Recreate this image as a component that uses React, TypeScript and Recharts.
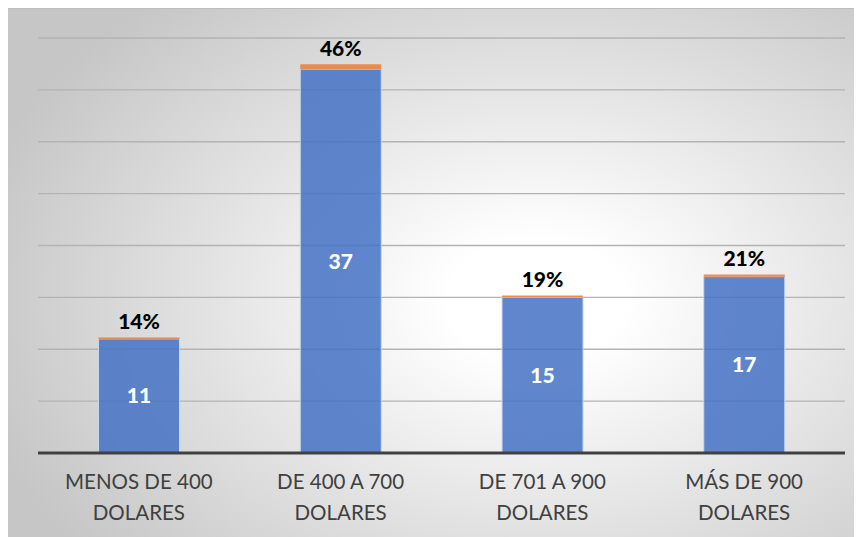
import { Bar, BarChart, CartesianGrid, LabelList, XAxis, YAxis } from "recharts";

const CATEGORIES = [
  "MENOS DE 400 DOLARES",
  "DE 400 A 700 DOLARES",
  "DE 701 A 900 DOLARES",
  "MÁS DE 900 DOLARES",
];
const COUNTS = [11, 37, 15, 17];
const SHARES = [0.14, 0.46, 0.19, 0.21];
const Y_TICKS = [0, 5, 10, 15, 20, 25, 30, 35, 40];

const FONT = "Lato, 'Open Sans', sans-serif";

const data = CATEGORIES.map((c, i) => ({
  category: c,
  count: COUNTS[i],
  share: SHARES[i],
}));

function CategoryTick(props: any) {
  const { x, y, payload } = props;
  const words = String(payload.value).split(" ");
  const last = words.pop();
  const first = words.join(" ");
  return (
    <text
      x={x}
      y={y}
      textAnchor="middle"
      fill="#404040"
      fontSize={20.5}
      fontFamily={FONT}
    >
      <tspan x={x} dy={28}>
        {first}
      </tspan>
      <tspan x={x} dy={31}>
        {last}
      </tspan>
    </text>
  );
}

export default function App() {
  return (
    <div
      style={{
        width: 853,
        height: 529,
        background:
          "radial-gradient(ellipse 68% 75% at 62% 55%, #ffffff 15%, #e4e4e4 55%, #c6c6c6 100%)",
        borderTop: "1px solid #bdbdbd",
        fontFamily: FONT,
      }}
    >
      <BarChart
        width={853}
        height={529}
        data={data}
        barCategoryGap="30%"
        margin={{ top: 29, right: 16, left: 30, bottom: 0 }}
      >
        <CartesianGrid vertical={false} stroke="#b3b3b3" strokeWidth={1.3} />
        <XAxis
          dataKey="category"
          height={85}
          axisLine={{ stroke: "#404040", strokeWidth: 3 }}
          tickLine={false}
          interval={0}
          tick={<CategoryTick />}
        />
        <YAxis hide domain={[0, 40]} ticks={Y_TICKS} />
        <Bar
          dataKey="count"
          stackId="a"
          fill="#4472C4"
          fillOpacity={0.85}
          stroke="#c9d6ee"
          strokeWidth={1}
          isAnimationActive={false}
        >
          <LabelList
            dataKey="count"
            position="center"
            fill="#ffffff"
            fontSize={21}
            fontWeight={900}
            fontFamily={FONT}
          />
        </Bar>
        <Bar
          dataKey="share"
          stackId="a"
          fill="#ED7D31"
          fillOpacity={0.85}
          isAnimationActive={false}
        >
          <LabelList
            dataKey="share"
            position="top"
            offset={8}
            fill="#000000"
            fontSize={21}
            fontWeight={900}
            fontFamily={FONT}
            formatter={(v: any) => `${Math.round(Number(v) * 100)}%`}
          />
        </Bar>
      </BarChart>
    </div>
  );
}
